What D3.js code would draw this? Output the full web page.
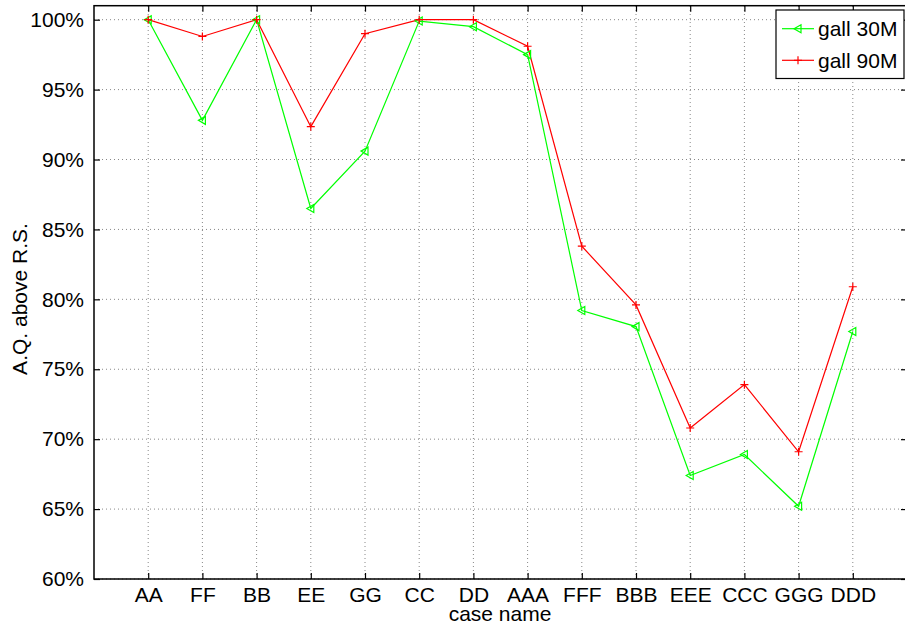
<!DOCTYPE html>
<html><head><meta charset="utf-8">
<script src="https://cdn.jsdelivr.net/npm/d3@7"></script>
<style>body{margin:0;background:#fff}svg{display:block}text{font-family:"Liberation Sans",Arial,Helvetica,sans-serif}</style>
</head><body><svg id="c" width="905" height="628"></svg>
<script>
const categories = ["AA","FF","BB","EE","GG","CC","DD","AAA","FFF","BBB","EEE","CCC","GGG","DDD"];
const gall30 = [100.0, 92.8, 100.0, 86.5, 90.6, 99.9, 99.5, 97.5, 79.2, 78.05, 67.4, 68.9, 65.2, 77.7];
const gall90 = [100.0, 98.8, 100.0, 92.35, 99.0, 100.0, 100.0, 98.1, 83.8, 79.6, 70.8, 73.9, 69.1, 80.9];
const yTicks = [60,65,70,75,80,85,90,95,100];
const seriesNames = ["gall 30M","gall 90M"];
const colors = ["#00ff00","#ff0000"];

const svg = d3.select("#c");
const L = 94, R = 907, T = 5.7, B = 579;
const x = d3.scaleLinear().domain([0,15]).range([L,R]);
const y = d3.scaleLinear().domain([60,101]).range([B,T]);
const fs = 21;

// grid
const g = svg.append("g");
g.selectAll("line.vg").data(categories).enter().append("line")
  .attr("x1",(d,i)=>x(i+1)).attr("x2",(d,i)=>x(i+1)).attr("y1",B).attr("y2",T)
  .attr("stroke","#888").attr("stroke-width",1).attr("stroke-dasharray","1,3");
g.selectAll("line.hg").data(yTicks).enter().append("line")
  .attr("x1",L).attr("x2",R).attr("y1",d=>y(d)).attr("y2",d=>y(d))
  .attr("stroke","#888").attr("stroke-width",1).attr("stroke-dasharray","1,3");

// axes
const xAxis = d3.axisBottom(x).tickValues(d3.range(1,15)).tickFormat(d=>categories[d-1]).tickSizeInner(-6).tickSizeOuter(0).tickPadding(8);
const ax = svg.append("g").attr("transform",`translate(0,${B})`).call(xAxis);
ax.select(".domain").remove();
ax.selectAll("line").attr("stroke","#000").attr("stroke-width",1.2);
ax.selectAll("text").attr("font-size",fs).attr("fill","#000").style("font-family",'"Liberation Sans",Arial,sans-serif');

const xTop = d3.axisTop(x).tickValues(d3.range(1,15)).tickFormat("").tickSizeInner(-6).tickSizeOuter(0);
const axt = svg.append("g").attr("transform",`translate(0,${T})`).call(xTop);
axt.select(".domain").remove();
axt.selectAll("line").attr("stroke","#000").attr("stroke-width",1.2);

const yAxis = d3.axisLeft(y).tickValues(yTicks).tickFormat(d=>d+"%").tickSizeInner(-6).tickSizeOuter(0).tickPadding(10);
const ay = svg.append("g").attr("transform",`translate(${L},0)`).call(yAxis);
ay.select(".domain").remove();
ay.selectAll("line").attr("stroke","#000").attr("stroke-width",1.2);
ay.selectAll("text").attr("font-size",fs).attr("fill","#000").style("font-family",'"Liberation Sans",Arial,sans-serif');

const yRight = d3.axisRight(y).tickValues(yTicks).tickFormat("").tickSizeInner(-6).tickSizeOuter(0);
const ayr = svg.append("g").attr("transform",`translate(${R},0)`).call(yRight);
ayr.select(".domain").remove();
ayr.selectAll("line").attr("stroke","#000").attr("stroke-width",1.2);

// frame
svg.append("rect").attr("x",L).attr("y",T).attr("width",R-L).attr("height",B-T)
  .attr("fill","none").attr("stroke","#000").attr("stroke-width",1.5);

// lines
const line = d3.line().x((d,i)=>x(i+1)).y(d=>y(d));
[gall30,gall90].forEach((s,k)=>{
  svg.append("path").datum(s).attr("d",line).attr("fill","none").attr("stroke",colors[k]).attr("stroke-width",1.2);
});
function tri(cx,cy){ return `M${cx-4},${cy} L${cx+3},${cy-4} L${cx+3},${cy+4} Z`; }
function plus(cx,cy){ return `M${cx-4},${cy} H${cx+4} M${cx},${cy-4} V${cy+4}`; }
svg.append("g").selectAll("path").data(gall30).enter().append("path")
  .attr("d",(d,i)=>tri(x(i+1),y(d))).attr("fill","none").attr("stroke",colors[0]).attr("stroke-width",1.2);
svg.append("g").selectAll("path").data(gall90).enter().append("path")
  .attr("d",(d,i)=>plus(x(i+1),y(d))).attr("fill","none").attr("stroke",colors[1]).attr("stroke-width",1.2);

// labels
svg.append("text").attr("x",500).attr("y",621).attr("text-anchor","middle").attr("font-size",fs).text("case name");
svg.append("text").attr("transform",`translate(27,299) rotate(-90)`).attr("text-anchor","middle").attr("font-size",fs).text("A.Q. above R.S.");

// legend
const lg = svg.append("g");
lg.append("rect").attr("x",776).attr("y",10).attr("width",128).attr("height",68.5)
  .attr("fill","#fff").attr("stroke","#000").attr("stroke-width",1.2);
const ly = [28.7,60.3];
seriesNames.forEach((n,k)=>{
  lg.append("line").attr("x1",782).attr("x2",814).attr("y1",ly[k]).attr("y2",ly[k]).attr("stroke",colors[k]).attr("stroke-width",1.2);
  lg.append("path").attr("d",k===0?tri(798,ly[k]):plus(798,ly[k])).attr("fill","none").attr("stroke",colors[k]).attr("stroke-width",1.2);
  lg.append("text").attr("x",818).attr("y",ly[k]+7.5).attr("font-size",fs).text(n);
});
</script></body></html>
